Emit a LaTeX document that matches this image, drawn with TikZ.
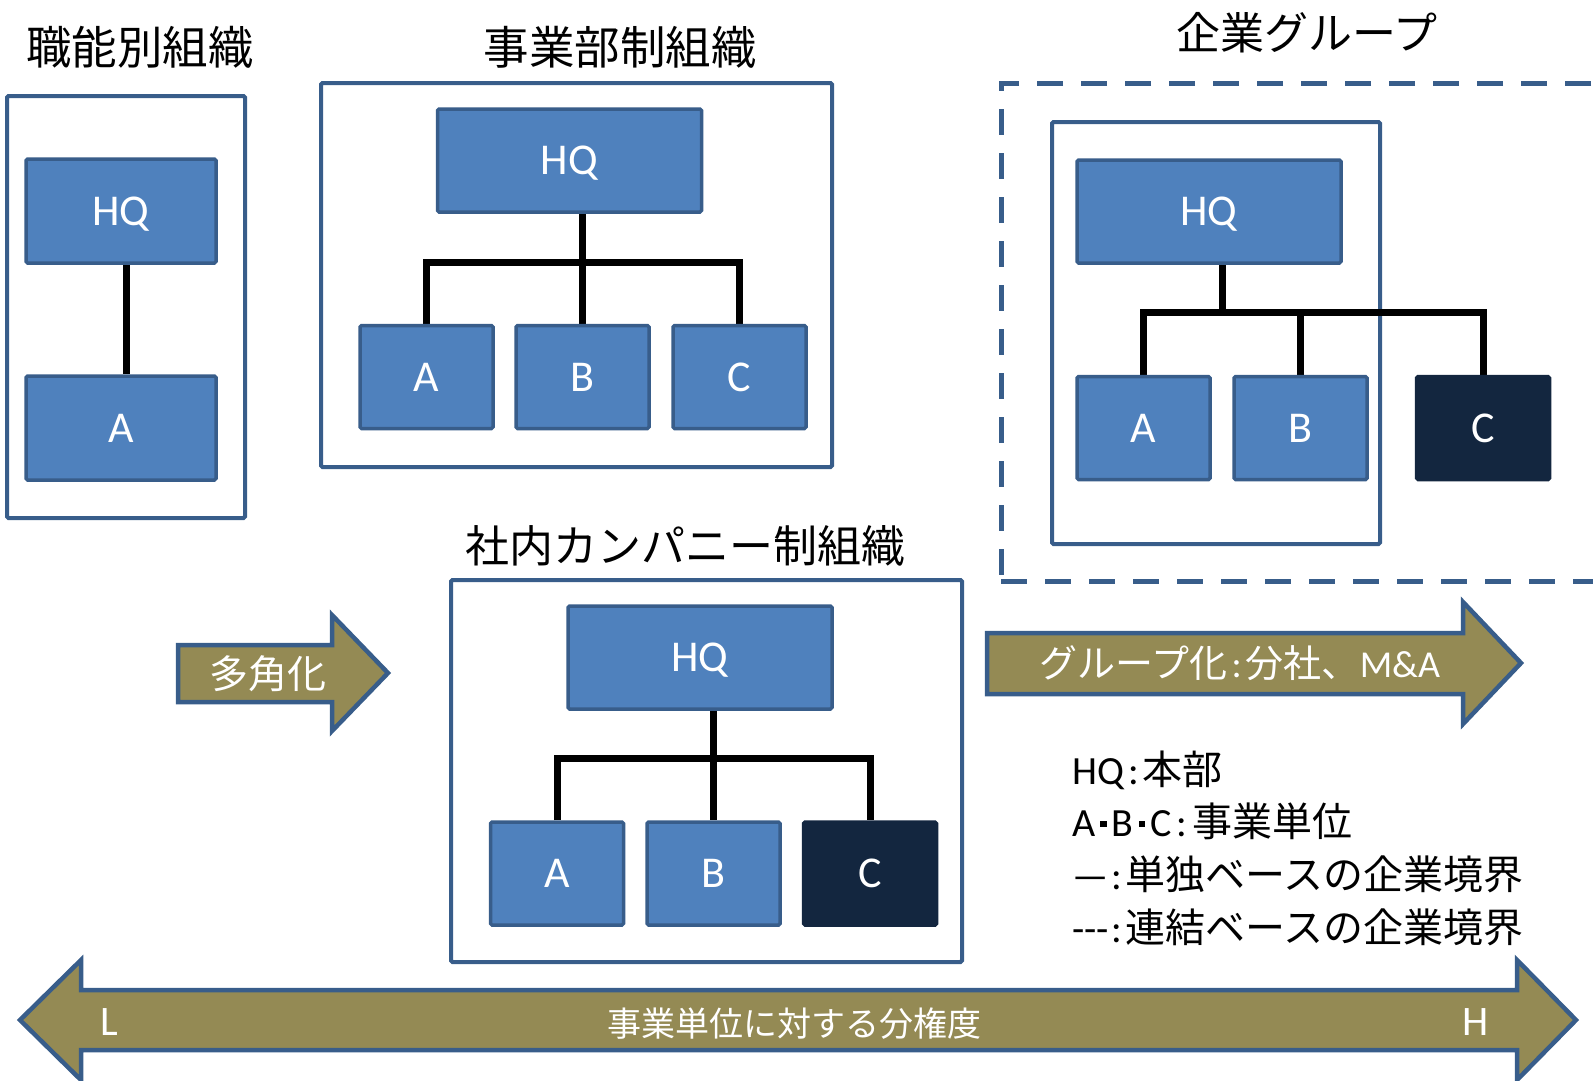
\documentclass[tikz,border=0pt]{standalone}
\usepackage{fontspec}
\setmainfont{Carlito}
\newfontfamily\jp{Noto Sans CJK JP}
\definecolor{boxc}{HTML}{4F81BD}
\definecolor{bordc}{HTML}{385D8A}
\definecolor{darkc}{HTML}{13263F}
\definecolor{olivec}{HTML}{948A54}
\pgfdeclarelayer{back}
\pgfdeclarelayer{mid}
\pgfsetlayers{back,mid,main}
\newcommand{\sqdot}{\hspace{5pt}\raisebox{9pt}{\rule{6.5pt}{6.5pt}}\hspace{5pt}}
\tikzset{
  unit/.style={draw=bordc, fill=boxc, line width=3.5pt, rounded corners=1.5pt, text=white,
    font=\fontsize{44}{48}\selectfont, inner sep=0pt, text height=28pt, text depth=0pt,
    minimum width=133pt, minimum height=103pt},
  hqbox/.style={unit, minimum width=264pt},
  darkunit/.style={unit, fill=darkc, draw=darkc},
  frame/.style={draw=bordc, line width=4pt, rounded corners=1.5pt, inner sep=0pt, fill=white},
  dframe/.style={draw=bordc, line width=5pt, dash pattern=on 26pt off 18pt, inner sep=0pt},
  conn/.style={line width=7pt, black, line join=miter},
  title/.style={font=\jp\fontsize{45.5}{48}\selectfont, text=black, inner sep=0pt},
  arrowsty/.style={draw=bordc, fill=olivec, line width=4.5pt, line join=miter},
  arrtext/.style={text=white, inner sep=0pt},
  legend/.style={anchor=west, inner sep=0pt, font=\fontsize{40}{44}\selectfont, text=black}
}
\begin{document}
\begin{tikzpicture}[x=1pt,y=-1pt]
\useasboundingbox (0,0) rectangle (1593,1080);
\clip (0,0) rectangle (1593,1080);

% ---------- titles ----------
\node[title] (t1) at (140,47) {職能別組織};
\node[title] (t2) at (620,47) {事業部制組織};
\node[title, font=\jp\fontsize{44}{48}\selectfont] (t3) at (1307,33) {企業グループ};
\node[title, font=\jp\fontsize{44}{48}\selectfont] (t4) at (685,546) {社内カンパニー制組織};

% ---------- frames ----------
\begin{pgfonlayer}{back}
\node[frame, minimum width=238pt, minimum height=422pt] (f1) at (126,307) {};
\node[frame, minimum width=511pt, minimum height=384pt] (f2) at (576.5,275) {};
\node[dframe, minimum width=618pt, minimum height=498pt] (f3o) at (1310,332) {};
\node[frame, minimum width=328pt, minimum height=422pt] (f3) at (1216,333) {};
\node[frame, minimum width=511pt, minimum height=382pt] (f4) at (706.5,771) {};
\end{pgfonlayer}

% ---------- 職能別組織 ----------
\node[unit, minimum width=190pt, minimum height=104pt] (hq1) at (121,211) {HQ};
\node[unit, minimum width=190pt, minimum height=104pt] (a1) at (121,428) {A};

% ---------- 事業部制組織 ----------
\node[hqbox] (hq2) at (569.5,160.5) {HQ};
\node[unit] (a2) at (426.5,377) {A};
\node[unit] (b2) at (582.5,377) {B};
\node[unit] (c2) at (739.5,377) {C};
\coordinate (j2) at (582.5,262);

% ---------- 企業グループ ----------
\node[hqbox] (hq3) at (1209,211.5) {HQ};
\node[unit] (a3) at (1143.5,428) {A};
\node[unit] (b3) at (1300.5,428) {B};
\node[darkunit] (c3) at (1483,428) {C};
\coordinate (j3) at (1222,312);

% ---------- 社内カンパニー制組織 ----------
\node[hqbox] (hq4) at (700,657.5) {HQ};
\node[unit] (a4) at (557,873.5) {A};
\node[unit] (b4) at (713.5,873.5) {B};
\node[darkunit] (c4) at (870,873.5) {C};
\coordinate (j4) at (713.5,758);

% ---------- connectors ----------
\begin{pgfonlayer}{mid}
\draw[conn] ([xshift=5pt]hq1.south) -- ([xshift=5pt]a1.north);
\draw[conn] (hq2.south -| j2) -- (b2.north);
\draw[conn] (a2.north) |- (j2) -| (c2.north);
\draw[conn] (hq3.south -| j3) -- (j3);
\draw[conn] (a3.north) |- (j3) -| (c3.north);
\draw[conn] (j3 -| b3.north) -- (b3.north);
\draw[conn] (hq4.south -| j4) -- (b4.north);
\draw[conn] (a4.north) |- (j4) -| (c4.north);
\end{pgfonlayer}

% ---------- arrows ----------
\draw[arrowsty] (178,645) -- (332,645) -- (332,615) -- (388,673) -- (332,731) -- (332,702) -- (178,702) -- cycle;
\node[arrtext, font=\jp\fontsize{39}{40}\selectfont] (d1) at (268,674) {多角化};

\draw[arrowsty] (987,633) -- (1463,633) -- (1463,602) -- (1521,663) -- (1463,724) -- (1463,694) -- (987,694) -- cycle;
\node[arrtext, font=\fontsize{38}{40}\selectfont] (d2) at (1240,663) {{\jp グループ化}\hspace{4pt}:\hspace{4pt}{\jp 分社、}M\&A};

\draw[arrowsty] (20,1020) -- (81,960) -- (81,990) -- (1517,990) -- (1517,960) -- (1576,1020) -- (1517,1080) -- (1517,1050) -- (81,1050) -- (81,1080) -- cycle;
\node[arrtext, font=\jp\fontsize{34}{36}\selectfont] (d3) at (794,1024) {事業単位に対する分権度};
\node[arrtext, font=\fontsize{42}{44}\selectfont, text height=27pt, text depth=0pt] (dl) at (109,1022) {L};
\node[arrtext, font=\fontsize{42}{44}\selectfont, text height=27pt, text depth=0pt] (dh) at (1476,1022) {H};

% ---------- legend ----------
\node[legend] (l1) at (1072,770) {HQ\hspace{4pt}:\hspace{4pt}{\jp 本部}};
\node[legend] (l2) at (1072,821) {A\sqdot B\sqdot C\hspace{5pt}:\hspace{5pt}{\jp 事業単位}};
\node[legend] (l3) at (1072,874) {—\hspace{3pt}:\hspace{3pt}{\jp 単独ベースの企業境界}};
\node[legend] (l4) at (1072,927) {-{}-{}-\hspace{3pt}:\hspace{3pt}{\jp 連結ベースの企業境界}};
\end{tikzpicture}
\end{document}
